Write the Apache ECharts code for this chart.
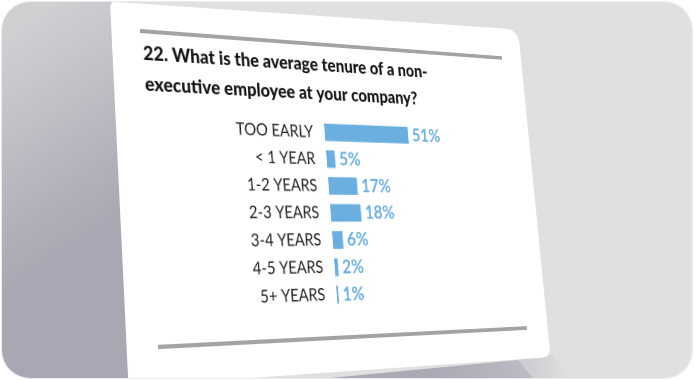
<!DOCTYPE html>
<html><head><meta charset="utf-8">
<script src="https://cdn.jsdelivr.net/npm/echarts@6/dist/echarts.min.js"></script>
<style>
html,body{margin:0;padding:0;background:#ffffff;}
#stage{position:relative;width:694px;height:380px;}
#frame{position:absolute;left:2px;top:2px;width:690px;height:376px;border-radius:28px;overflow:hidden;box-shadow:0 0 0 1px #ececec;}
#bg{position:absolute;left:-2px;top:-2px;width:694px;height:380px;}
#card{position:absolute;left:-2px;top:-2px;width:520px;height:420px;transform-origin:0 0;}
</style></head><body>
<div id="stage"><div id="frame"><div id="bg"></div><div id="card"></div></div></div>
<script>
// ---- data ----
const categories = ['TOO EARLY', '< 1 YEAR', '1-2 YEARS', '2-3 YEARS', '3-4 YEARS', '4-5 YEARS', '5+ YEARS'];
const values = [51, 5, 17, 18, 6, 2, 1];
const titleLines = ['22. What is the average tenure of a non-', 'executive employee at your company?'];
const valueSuffix = '%';

// ---- helpers ----
function solve(A, b) {
  const n = b.length;
  for (let i = 0; i < n; i++) {
    let p = i;
    for (let r = i + 1; r < n; r++) if (Math.abs(A[r][i]) > Math.abs(A[p][i])) p = r;
    [A[i], A[p]] = [A[p], A[i]]; [b[i], b[p]] = [b[p], b[i]];
    for (let r = i + 1; r < n; r++) {
      const f = A[r][i] / A[i][i];
      for (let c = i; c < n; c++) A[r][c] -= f * A[i][c];
      b[r] -= f * b[i];
    }
  }
  const x = new Array(n).fill(0);
  for (let i = n - 1; i >= 0; i--) {
    let s = b[i];
    for (let c = i + 1; c < n; c++) s -= A[i][c] * x[c];
    x[i] = s / A[i][i];
  }
  return x;
}
function homography(src, dst) {
  const A = [], b = [];
  for (let i = 0; i < 4; i++) {
    const [x, y] = src[i], [u, v] = dst[i];
    A.push([x, y, 1, 0, 0, 0, -u * x, -u * y]); b.push(u);
    A.push([0, 0, 0, x, y, 1, -v * x, -v * y]); b.push(v);
  }
  const h = solve(A, b);
  return 'matrix3d(' + [h[0], h[3], 0, h[6], h[1], h[4], 0, h[7], 0, 0, 1, 0, h[2], h[5], 0, 1].join(',') + ')';
}
function roundedPoly(pts, radii) {
  const out = [];
  const n = pts.length;
  for (let i = 0; i < n; i++) {
    const P = pts[i], A = pts[(i - 1 + n) % n], B = pts[(i + 1) % n], r = radii[i];
    const da = Math.hypot(A[0] - P[0], A[1] - P[1]), db = Math.hypot(B[0] - P[0], B[1] - P[1]);
    const p1 = [P[0] + (A[0] - P[0]) * r / da, P[1] + (A[1] - P[1]) * r / da];
    const p2 = [P[0] + (B[0] - P[0]) * r / db, P[1] + (B[1] - P[1]) * r / db];
    for (let k = 0; k <= 8; k++) {
      const t = k / 8;
      out.push([
        (1 - t) * (1 - t) * p1[0] + 2 * (1 - t) * t * P[0] + t * t * p2[0],
        (1 - t) * (1 - t) * p1[1] + 2 * (1 - t) * t * P[1] + t * t * p2[1]
      ]);
    }
  }
  return out;
}

// ---- background (frame, shadows, card sheet) ----
const bg = echarts.init(document.getElementById('bg'), null, {renderer: 'canvas'});
const G = echarts.graphic;
bg.setOption({
  animation: false,
  graphic: [
    {type: 'rect', shape: {x: 0, y: 0, width: 694, height: 380}, style: {fill: '#e0e0e0'}, z: 0},
    {type: 'polygon', shape: {points: [[0, 0], [118, 0], [136, 400], [0, 400]]},
      style: {fill: new G.LinearGradient(0, 40, 118, 220, [{offset: 0, color: '#d0d0d3'}, {offset: 1, color: '#a8a7b3'}], true)}, z: 1},
    {type: 'polygon', shape: {points: [[100, 400], [518, 360], [536, 380], [536, 400]]},
      style: {fill: new G.LinearGradient(120, 0, 536, 0, [{offset: 0, color: '#a8a6b3'}, {offset: 0.75, color: '#aaa9b5'}, {offset: 1, color: '#bdbcc5'}], true)}, z: 1},
    {type: 'polygon', shape: {points: [[518, 360], [552, 354], [575, 382], [536, 382]]},
      style: {fill: new G.LinearGradient(520, 0, 570, 0, [{offset: 0, color: '#cbcbd0'}, {offset: 1, color: '#e0e0e0'}], true)}, z: 1},
    {type: 'polygon', shape: {points: roundedPoly([[110, 1.5], [518, 29.5], [550.5, 357], [128.5, 386.5]], [6, 14, 9, 8])},
      style: {fill: '#ffffff'}, z: 2}
  ]
});

// ---- the chart, laid out flat and projected onto the sheet ----
const cardEl = document.getElementById('card');
cardEl.style.transform = homography(
  [[40, 40], [490, 40], [40, 340], [490, 340]],
  [[140, 31], [502, 58], [158, 347], [527, 328]]
);
const chart = echarts.init(cardEl, null, {renderer: 'canvas', devicePixelRatio: 2});
chart.setOption({
  animation: false,
  title: {
    text: titleLines.join('\n'),
    left: 42, top: 47, padding: 0,
    textStyle: {fontFamily: 'Lato', fontWeight: 900, fontSize: 19, lineHeight: 30, color: '#151515'}
  },
  graphic: [
    {type: 'line', shape: {x1: 40, y1: 40, x2: 490, y2: 40}, style: {stroke: '#a0a5a3', lineWidth: 4}},
    {type: 'line', shape: {x1: 40, y1: 340, x2: 490, y2: 340}, style: {stroke: '#a0a5a3', lineWidth: 4}}
  ],
  grid: {left: 244, top: 118, width: 208, height: 193, containLabel: false},
  xAxis: {type: 'value', min: 0, max: 100, show: false},
  yAxis: {
    type: 'category', data: categories, inverse: true,
    axisLine: {show: false}, axisTick: {show: false}, splitLine: {show: false},
    axisLabel: {interval: 0, margin: 14, fontFamily: 'Lato', fontSize: 17, color: '#222222'}
  },
  series: [{
    type: 'bar', data: values, barWidth: 18,
    itemStyle: {color: '#6aafe0'},
    label: {show: true, position: 'right', distance: 5, formatter: p => p.value + valueSuffix,
      fontFamily: 'Lato', fontWeight: 'bold', fontSize: 19, color: '#6aafe0'}
  }]
});
</script>
</body></html>
